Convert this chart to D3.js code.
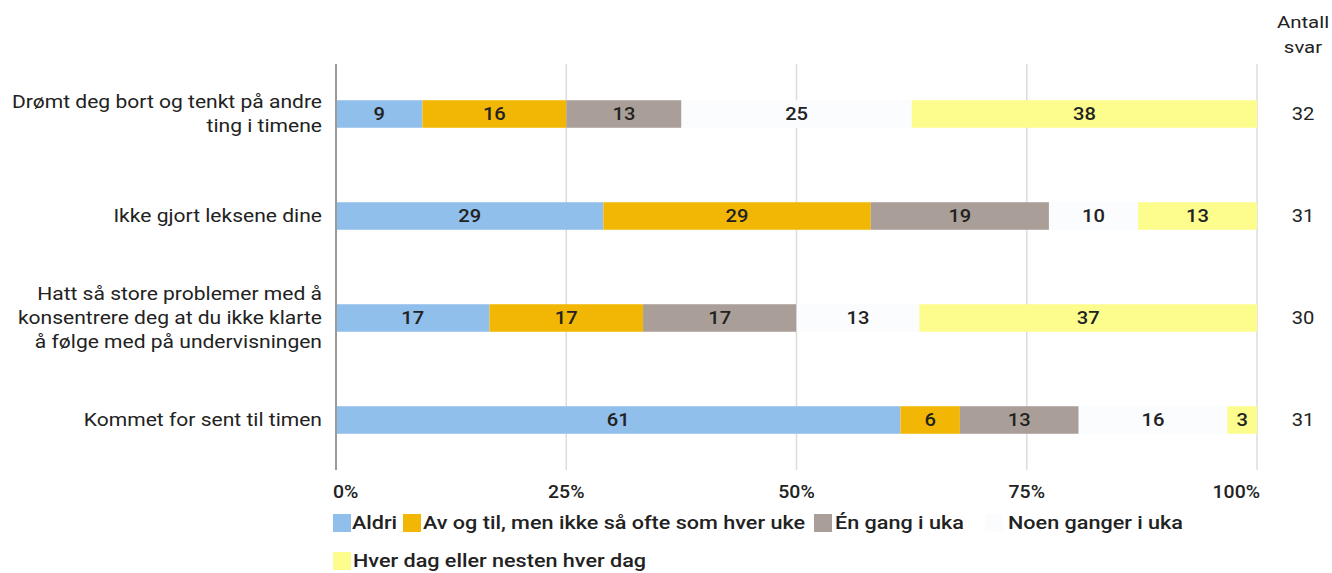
<!DOCTYPE html>
<html><head><meta charset="utf-8">
<script src="https://cdn.jsdelivr.net/npm/d3@7"></script>
<style>body{margin:0;background:#fff}svg{display:block;font-family:Roboto,"Noto Sans",sans-serif}</style>
</head><body><svg id="c" width="1332" height="573"></svg>
<script>
const categories = [
  ["Drømt deg bort og tenkt på andre","ting i timene"],
  ["Ikke gjort leksene dine"],
  ["Hatt så store problemer med å","konsentrere deg at du ikke klarte","å følge med på undervisningen"],
  ["Kommet for sent til timen"]
];
const seriesNames = ["Aldri","Av og til, men ikke så ofte som hver uke","Én gang i uka","Noen ganger i uka","Hver dag eller nesten hver dag"];
const aldri   = [9.38, 29.03, 16.67, 61.29];
const avogtil = [15.63, 29.03, 16.67, 6.45];
const engang  = [12.5, 19.35, 16.67, 12.9];
const noen    = [25, 9.68, 13.33, 16.13];
const hverdag = [37.5, 12.9, 36.67, 3.23];
const labelsShown = [[9,16,13,25,38],[29,29,19,10,13],[17,17,17,13,37],[61,6,13,16,3]];
const antall = [32, 31, 30, 31];
const ticks = [0, 25, 50, 75, 100];
const colors = ["#8fbfea","#f2b705","#aa9f98","#fafcfe","#fdfd8e"];

const svg = d3.select("#c");
const x = d3.scaleLinear().domain([0,100]).range([336,1257]);
const y = d3.scaleBand().domain(d3.range(categories.length)).range([63,471]).paddingInner(0.73).paddingOuter(0.365);
const series = [aldri, avogtil, engang, noen, hverdag];

// helper: horizontally stretched text
function stext(parent, tx, ty, sx, anchor, size, weight, txt){
  const t = parent.append("text")
    .attr("transform", `translate(${tx},${ty}) scale(${sx},1)`)
    .attr("dy","0.36em").attr("text-anchor",anchor)
    .attr("font-size",size).attr("font-weight",weight).attr("fill","#222").text(txt);
  return t;
}

// gridlines
svg.append("g").selectAll("line").data(ticks.slice(1)).join("line")
  .attr("x1", d=>x(d)).attr("x2", d=>x(d)).attr("y1", 64).attr("y2", 470)
  .attr("stroke", "#dcdcdc").attr("stroke-width", 1.5);

// stacks
const rows = categories.map((c,i)=>{const o={i}; series.forEach((s,k)=>o[k]=s[i]); return o;});
const stack = d3.stack().keys(d3.range(series.length))(rows);
const g = svg.append("g");
stack.forEach((layer,k)=>{
  g.selectAll(null).data(layer).join("rect")
    .attr("x", d=>x(d[0])).attr("width", d=>x(d[1])-x(d[0]))
    .attr("y", (d,i)=>y(i)).attr("height", y.bandwidth())
    .attr("fill", colors[k]);
  layer.forEach((d,i)=>{
    stext(g, (x(d[0])+x(d[1]))/2, y(i)+y.bandwidth()/2, 1.12, "middle", 18, 500, labelsShown[i][k]);
  });
});

// axis line at 0
svg.append("line").attr("x1",x(0)).attr("x2",x(0)).attr("y1",64).attr("y2",470)
  .attr("stroke","#9a9a9a").attr("stroke-width",2);

// category labels
const cl = svg.append("g");
categories.forEach((lines,i)=>{
  const cy = y(i)+y.bandwidth()/2;
  lines.forEach((ln,j)=>{
    stext(cl, 322, cy + (j-(lines.length-1)/2)*24, 1.17, "end", 18, 400, ln);
  });
});

// antall
stext(svg, 1303, 22, 1.2, "middle", 17, 400, "Antall");
stext(svg, 1303, 47, 1.2, "middle", 17, 400, "svar");
antall.forEach((d,i)=>stext(svg, 1303, y(i)+y.bandwidth()/2, 1.12, "middle", 18, 400, d));

// tick labels
ticks.forEach(d=>{
  stext(svg, x(d)+(d===0?-3:d===100?3:0), 492, 1.08,
    d===0?"start":d===100?"end":"middle", 18, 500, d+"%");
});

// legend
const leg = svg.append("g");
const legPos = [[333,523],[403,523],[814,523],[985,523],[333,561]];
const textOff = [19,20,21,23,20];
seriesNames.forEach((n,k)=>{
  const [lx,ly] = legPos[k];
  leg.append("rect").attr("x",lx).attr("y",ly-9).attr("width",18).attr("height",18).attr("fill",colors[k]);
  stext(leg, lx+textOff[k], ly, 1.2, "start", 18, 500, n);
});
</script></body></html>
